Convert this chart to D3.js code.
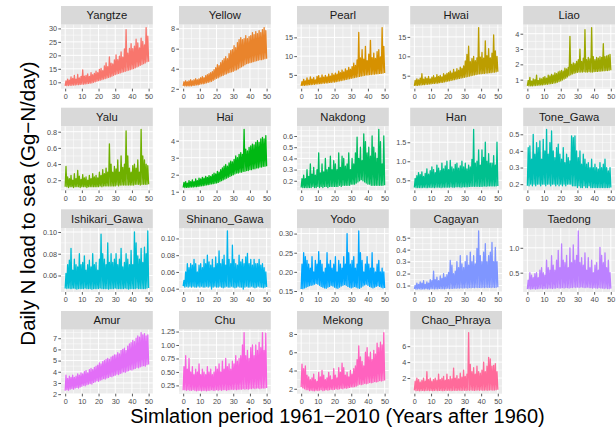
<!DOCTYPE html>
<html>
<head>
<meta charset="utf-8">
<script src="https://cdn.jsdelivr.net/npm/d3@7"></script>
<style>
  body { margin: 0; background: #fff; }
  text { font-family: "Liberation Sans", Arial, sans-serif; }
</style>
</head>
<body>
<div id="container"></div>
<script>
/* DATA: yearly low / high of daily N load (years 0..49 after 1960) */
const rivers = ["Yangtze","Yellow","Pearl","Hwai","Liao","Yalu","Hai","Nakdong","Han","Tone_Gawa",
  "Ishikari_Gawa","Shinano_Gawa","Yodo","Cagayan","Taedong","Amur","Chu","Mekong","Chao_Phraya"];

const xTicks = [0, 10, 20, 30, 40, 50];

const yangtzeLow = [8.7,8.8,8.8,8.9,8.9,9.0,9.0,9.1,9.1,9.2,9.3,9.3,9.4,9.5,9.6,9.7,9.8,10.0,10.2,10.4,
  10.6,10.8,11.0,11.2,11.4,11.6,11.8,12.0,12.3,12.6,12.9,13.1,13.3,13.5,13.7,13.9,14.1,14.3,14.5,14.7,
  14.9,15.1,15.4,15.7,16.0,16.3,16.6,16.9,17.2,17.6];
const yangtzeHigh = [10.5,11.2,10.8,12.0,11.4,12.6,11.2,12.9,11.6,12.2,14.6,12.3,12.6,13.1,12.2,13.6,12.8,13.3,14.1,13.6,
  14.8,15.2,14.3,16.1,17.2,15.8,19.4,17.1,16.8,18.3,20.2,18.4,19.7,21.3,19.3,22.4,29.5,20.8,22.6,24.3,
  22.5,23.4,26.0,24.6,22.8,26.4,25.2,23.9,30.3,27.1];
const yangtzeTicks = ["10","15","20","25","30"];

const yellowLow = [2.3,2.3,2.3,2.3,2.3,2.3,2.35,2.35,2.4,2.4,2.45,2.5,2.5,2.55,2.6,2.65,2.7,2.75,2.85,2.95,
  3.05,3.1,3.2,3.3,3.35,3.45,3.5,3.6,3.65,3.7,3.75,3.85,3.9,4.0,4.1,4.2,4.3,4.4,4.5,4.55,
  4.6,4.65,4.7,4.75,4.8,4.85,4.9,4.9,4.95,5.0];
const yellowHigh = [2.7,2.8,2.7,2.8,2.9,2.8,2.9,3.0,2.9,3.0,3.1,3.2,3.1,3.3,3.4,3.5,3.6,3.7,3.9,4.1,
  4.4,4.3,4.6,4.8,5.0,5.2,5.0,5.5,5.8,5.9,6.3,6.1,6.6,6.9,7.1,6.9,7.0,7.3,7.0,7.2,
  7.3,7.6,7.4,7.7,7.5,7.8,7.6,7.9,8.1,7.8];
const yellowTicks = ["2","4","6","8"];

const pearlLow = [2.1,2.2,2.2,2.3,2.3,2.4,2.4,2.5,2.5,2.6,2.6,2.7,2.7,2.8,2.8,2.9,2.9,3.0,3.0,3.1,
  3.1,3.2,3.3,3.4,3.5,3.6,3.7,3.8,3.9,4.0,4.1,4.2,4.3,4.4,4.5,4.6,4.7,4.8,4.9,5.0,
  5.0,5.1,5.1,5.2,5.2,5.3,5.3,5.4,5.4,5.5];
const pearlHigh = [3.2,3.8,3.4,4.2,3.6,4.5,3.9,4.3,3.7,4.6,4.8,4.2,5.0,4.4,4.9,4.5,5.2,4.7,5.4,5.0,
  5.5,5.2,6.0,5.6,6.3,5.8,6.6,6.2,7.0,6.5,7.2,8.1,7.5,9.0,16.3,9.5,11.7,9.2,12.6,8.8,
  10.5,14.2,9.6,10.8,9.4,11.2,11.7,9.8,17.6,12.6];
const pearlTicks = ["5","10","15"];

const hwaiLow = [2.4,2.5,2.5,2.6,2.6,2.7,2.7,2.8,2.8,2.9,2.9,3.0,3.0,3.1,3.1,3.2,3.3,3.3,3.4,3.5,
  3.6,3.7,3.8,3.9,4.0,4.1,4.2,4.3,4.4,4.5,4.6,4.7,4.8,4.9,5.0,5.1,5.2,5.3,5.4,5.5,
  5.5,5.6,5.6,5.7,5.7,5.8,5.8,5.9,5.9,6.0];
const hwaiHigh = [3.8,4.2,3.9,4.4,5.5,4.1,4.6,4.3,4.8,4.2,4.6,5.0,4.5,5.3,4.8,5.1,4.7,5.5,5.2,5.6,
  5.8,6.2,5.7,6.6,6.0,6.8,6.4,7.2,6.9,7.5,8.8,10.5,12.6,8.6,9.4,10.0,8.9,9.6,17.4,9.8,
  11.0,9.5,14.0,10.2,12.0,9.6,10.8,15.5,11.4,10.0];
const hwaiTicks = ["5","10","15"];

const liaoLow = [0.6,0.6,0.6,0.6,0.62,0.62,0.64,0.64,0.66,0.66,0.68,0.7,0.7,0.72,0.74,0.76,0.78,0.8,0.84,0.88,
  0.92,0.98,1.04,1.1,1.18,1.26,1.32,1.38,1.42,1.45,1.48,1.5,1.5,1.5,1.52,1.5,1.5,1.52,1.5,1.5,
  1.52,1.54,1.54,1.56,1.56,1.58,1.58,1.6,1.6,1.62];
const liaoHigh = [0.95,1.15,0.9,1.05,1.0,1.3,0.95,1.1,1.05,1.15,1.2,1.1,1.3,1.25,1.35,1.3,1.45,1.4,1.5,1.55,
  1.6,1.55,1.75,1.7,1.8,3.83,2.0,2.1,2.05,2.2,2.3,3.0,2.2,2.4,4.26,2.3,2.45,2.35,4.4,2.5,
  2.3,2.45,2.4,2.5,2.45,3.35,2.5,2.55,2.6,2.65];
const liaoTicks = ["1","2","3","4"];

const yaluLow = [0.12,0.12,0.11,0.12,0.12,0.11,0.12,0.12,0.12,0.11,0.12,0.12,0.12,0.11,0.12,0.12,0.12,0.12,0.12,0.12,
  0.12,0.13,0.12,0.13,0.13,0.13,0.13,0.13,0.13,0.13,0.13,0.14,0.13,0.14,0.14,0.14,0.14,0.14,0.14,0.14,
  0.14,0.14,0.15,0.15,0.15,0.14,0.15,0.15,0.15,0.15];
const yaluHigh = [0.37,0.24,0.22,0.26,0.2,0.28,0.22,0.32,0.25,0.21,0.27,0.23,0.24,0.2,0.26,0.22,0.28,0.24,0.26,0.23,
  0.3,0.26,0.33,0.28,0.35,0.3,0.65,0.4,0.3,0.37,0.34,0.45,0.3,0.5,0.36,0.4,0.81,0.5,0.35,0.3,
  0.38,0.4,0.35,0.45,0.3,0.83,0.5,0.45,0.4,0.38];
const yaluTicks = ["0.2","0.4","0.6","0.8"];

const haiLow = [1.25,1.25,1.26,1.26,1.27,1.28,1.28,1.3,1.3,1.32,1.33,1.35,1.36,1.38,1.4,1.42,1.44,1.46,1.48,1.5,
  1.52,1.55,1.6,1.65,1.7,1.75,1.8,1.85,1.9,1.95,2.0,2.05,2.1,2.1,2.15,2.15,2.2,2.2,2.25,2.25,
  2.3,2.3,2.35,2.35,2.4,2.4,2.45,2.45,2.5,2.5];
const haiHigh = [1.55,1.6,1.5,1.65,1.6,1.7,1.6,1.75,1.65,1.8,1.75,1.85,1.8,1.9,1.85,1.95,1.9,2.0,2.1,2.05,
  2.2,2.15,2.3,2.4,2.5,2.6,2.5,2.7,2.8,2.75,2.9,3.1,3.0,3.2,3.3,3.2,4.67,3.5,3.4,3.6,
  3.7,3.8,3.75,3.9,4.0,3.9,4.1,4.2,4.1,4.3];
const haiTicks = ["1","2","3","4"];

const nakdongLow = [0.14,0.14,0.14,0.14,0.14,0.14,0.14,0.15,0.14,0.14,0.15,0.14,0.15,0.14,0.15,0.15,0.14,0.15,0.15,0.15,
  0.15,0.15,0.15,0.16,0.15,0.16,0.16,0.16,0.16,0.16,0.17,0.17,0.17,0.18,0.19,0.2,0.21,0.2,0.19,0.18,
  0.17,0.17,0.16,0.16,0.16,0.16,0.16,0.16,0.16,0.16];
const nakdongHigh = [0.22,0.25,0.22,0.3,0.24,0.35,0.26,0.32,0.25,0.3,0.45,0.27,0.35,0.28,0.4,0.3,0.32,0.42,0.3,0.38,
  0.35,0.3,0.45,0.32,0.42,0.4,0.33,0.35,0.45,0.3,0.4,0.35,0.45,0.59,0.4,0.5,0.38,0.62,0.55,0.45,
  0.5,0.42,0.6,0.5,0.45,0.4,0.66,0.55,0.35,0.6];
const nakdongTicks = ["0.2","0.3","0.4","0.5","0.6"];

const hanLow = [0.31,0.31,0.31,0.31,0.31,0.31,0.32,0.31,0.31,0.32,0.31,0.32,0.31,0.32,0.32,0.32,0.31,0.32,0.32,0.32,
  0.32,0.32,0.33,0.32,0.32,0.33,0.33,0.33,0.32,0.33,0.33,0.33,0.33,0.34,0.34,0.34,0.34,0.34,0.34,0.34,
  0.34,0.34,0.35,0.34,0.35,0.35,0.35,0.35,0.35,0.35];
const hanHigh = [0.55,0.62,0.7,0.65,0.72,0.6,0.68,0.8,0.66,0.75,0.85,0.78,0.7,0.9,0.82,0.75,0.95,0.8,0.88,1.0,
  0.78,1.02,0.85,0.8,0.92,0.95,0.82,0.88,1.0,0.85,0.95,0.8,0.9,0.85,1.05,1.84,0.95,1.0,1.3,0.9,
  1.3,1.1,1.5,1.0,1.2,0.95,0.95,1.15,0.9,1.5];
const hanTicks = ["0.5","1.0","1.5"];

const toneLow = [0.19,0.19,0.2,0.19,0.2,0.19,0.2,0.2,0.19,0.2,0.2,0.19,0.2,0.2,0.19,0.2,0.2,0.19,0.2,0.19,
  0.2,0.19,0.2,0.19,0.2,0.2,0.2,0.19,0.19,0.19,0.18,0.19,0.18,0.18,0.19,0.18,0.18,0.19,0.18,0.18,
  0.18,0.18,0.18,0.18,0.18,0.18,0.18,0.18,0.18,0.18];
const toneHigh = [0.42,0.43,0.35,0.5,0.38,0.45,0.42,0.46,0.35,0.47,0.4,0.53,0.38,0.45,0.52,0.4,0.36,0.42,0.44,0.38,
  0.35,0.42,0.33,0.38,0.36,0.34,0.49,0.48,0.49,0.4,0.36,0.4,0.32,0.38,0.35,0.32,0.33,0.3,0.35,0.3,
  0.32,0.3,0.29,0.33,0.3,0.32,0.35,0.3,0.28,0.3];
const toneTicks = ["0.2","0.3","0.4","0.5"];

const ishikariLow = [0.048,0.048,0.0485,0.048,0.048,0.0485,0.048,0.0475,0.048,0.048,0.048,0.048,0.0485,0.048,0.048,0.048,0.0475,0.048,0.048,0.048,
  0.048,0.0485,0.048,0.048,0.048,0.048,0.0475,0.048,0.048,0.048,0.0485,0.048,0.048,0.048,0.048,0.048,0.0485,0.048,0.0475,0.048,
  0.048,0.048,0.048,0.0485,0.048,0.048,0.048,0.048,0.048,0.0485];
const ishikariHigh = [0.062,0.07,0.074,0.085,0.065,0.075,0.07,0.068,0.08,0.07,0.072,0.078,0.065,0.07,0.074,0.068,0.08,0.07,0.072,0.065,
  0.075,0.098,0.08,0.075,0.07,0.09,0.072,0.08,0.072,0.075,0.08,0.07,0.075,0.085,0.068,0.072,0.08,0.075,0.07,0.083,
  0.07,0.1,0.09,0.078,0.075,0.085,0.072,0.086,0.08,0.101];
const ishikariTicks = ["0.06","0.08","0.10"];

const shinanoLow = [0.043,0.042,0.043,0.042,0.043,0.042,0.043,0.042,0.042,0.043,0.042,0.043,0.042,0.042,0.043,0.042,0.043,0.0395,0.042,0.043,
  0.042,0.042,0.043,0.042,0.041,0.042,0.043,0.042,0.042,0.043,0.042,0.041,0.042,0.043,0.042,0.042,0.0395,0.042,0.043,0.042,
  0.042,0.043,0.042,0.041,0.042,0.043,0.042,0.042,0.041,0.042];
const shinanoHigh = [0.05,0.06,0.07,0.065,0.07,0.068,0.075,0.07,0.06,0.068,0.07,0.065,0.075,0.07,0.08,0.072,0.068,0.075,0.065,0.078,
  0.07,0.085,0.07,0.075,0.08,0.068,0.109,0.075,0.07,0.092,0.075,0.07,0.068,0.08,0.072,0.075,0.07,0.078,0.082,0.07,
  0.075,0.068,0.075,0.07,0.07,0.075,0.068,0.07,0.065,0.06];
const shinanoTicks = ["0.04","0.06","0.08","0.10"];

const yodoLow = [0.155,0.156,0.158,0.16,0.162,0.164,0.165,0.166,0.168,0.17,0.168,0.165,0.162,0.16,0.158,0.157,0.16,0.162,0.165,0.163,
  0.16,0.158,0.157,0.16,0.163,0.165,0.167,0.165,0.162,0.16,0.158,0.16,0.162,0.16,0.158,0.157,0.16,0.163,0.166,0.168,
  0.165,0.162,0.16,0.158,0.16,0.162,0.164,0.162,0.16,0.158];
const yodoHigh = [0.22,0.25,0.24,0.23,0.22,0.21,0.24,0.2,0.23,0.22,0.253,0.23,0.22,0.2,0.21,0.25,0.22,0.23,0.21,0.22,
  0.24,0.2,0.23,0.22,0.21,0.24,0.22,0.3,0.25,0.22,0.23,0.24,0.21,0.22,0.307,0.25,0.23,0.2,0.22,0.24,
  0.22,0.21,0.25,0.21,0.2,0.22,0.23,0.2,0.21,0.2];
const yodoTicks = ["0.15","0.20","0.25","0.30"];

const cagayanLow = [0.072,0.07,0.071,0.073,0.07,0.072,0.071,0.074,0.072,0.07,0.073,0.075,0.072,0.074,0.073,0.076,0.074,0.075,0.073,0.076,
  0.078,0.075,0.077,0.076,0.079,0.077,0.08,0.078,0.081,0.079,0.08,0.082,0.079,0.083,0.081,0.084,0.082,0.085,0.083,0.084,
  0.082,0.085,0.083,0.086,0.084,0.085,0.083,0.086,0.084,0.085];
const cagayanHigh = [0.1,0.12,0.11,0.13,0.12,0.14,0.11,0.13,0.12,0.15,0.14,0.22,0.15,0.17,0.14,0.18,0.16,0.2,0.17,0.19,
  0.21,0.31,0.27,0.2,0.22,0.3,0.25,0.35,0.28,0.25,0.3,0.35,0.27,0.38,0.3,0.35,0.28,0.41,0.557,0.35,
  0.3,0.38,0.45,0.3,0.35,0.38,0.46,0.3,0.42,0.3];
const cagayanTicks = ["0.1","0.2","0.3","0.4","0.5"];

const taedongLow = [0.17,0.18,0.17,0.18,0.18,0.17,0.18,0.18,0.19,0.18,0.18,0.19,0.18,0.19,0.19,0.18,0.19,0.19,0.2,0.19,
  0.19,0.2,0.19,0.2,0.2,0.19,0.2,0.2,0.21,0.2,0.21,0.2,0.21,0.21,0.2,0.2,0.21,0.2,0.2,0.19,
  0.2,0.19,0.19,0.2,0.19,0.19,0.18,0.19,0.18,0.18];
const taedongHigh = [0.35,0.5,0.45,0.4,0.48,0.5,0.4,0.55,0.6,0.5,0.45,0.75,0.6,0.55,0.84,0.65,0.55,0.75,0.95,0.6,
  1.08,0.75,0.7,0.85,0.6,1.0,0.7,1.06,0.75,0.85,1.34,0.7,0.8,0.65,0.9,0.55,0.8,0.6,0.75,0.5,
  0.65,0.7,0.55,1.01,0.85,0.7,0.9,0.6,0.75,0.5];
const taedongTicks = ["0.5","1.0"];

const amurLow = [2.3,2.4,2.35,2.45,2.5,2.45,2.55,2.6,2.55,2.65,2.7,2.8,2.75,2.85,2.9,2.95,2.9,3.05,3.1,3.2,
  3.15,3.25,3.3,3.4,3.35,3.45,3.5,3.6,3.55,3.65,3.7,3.8,3.75,3.85,3.9,4.0,3.95,4.05,4.1,4.2,
  4.15,4.25,4.3,4.4,4.35,4.45,4.5,4.55,4.5,4.65];
const amurHigh = [3.7,3.4,3.6,3.5,3.7,3.5,3.6,3.8,3.7,3.9,3.8,4.0,4.1,3.9,4.2,4.3,4.2,4.4,4.5,4.6,
  4.8,4.7,4.9,5.0,5.1,5.2,5.1,5.3,5.4,5.5,5.5,5.7,5.6,5.9,6.0,6.1,5.9,6.3,6.5,6.6,
  6.8,6.7,7.0,7.2,7.1,7.5,7.3,7.4,7.2,7.3];
const amurTicks = ["2","3","4","5","6","7"];

const chuLow = [0.16,0.17,0.16,0.17,0.16,0.16,0.17,0.16,0.15,0.16,0.16,0.15,0.16,0.16,0.15,0.16,0.16,0.17,0.16,0.16,
  0.17,0.16,0.17,0.16,0.17,0.17,0.16,0.17,0.17,0.18,0.17,0.18,0.17,0.18,0.18,0.18,0.19,0.18,0.19,0.18,
  0.19,0.19,0.2,0.19,0.2,0.2,0.19,0.2,0.2,0.2];
const chuHigh = [0.6,0.8,0.55,0.75,0.5,0.6,0.45,0.55,0.5,0.65,0.45,0.55,0.5,0.45,0.6,0.5,0.55,0.45,0.5,0.6,
  0.55,0.65,0.5,0.7,0.55,0.75,0.6,0.65,0.55,0.7,0.65,0.8,0.7,0.75,0.8,1.0,1.23,0.8,0.9,0.75,
  0.95,1.0,0.8,1.0,0.9,1.05,0.95,1.23,0.9,1.22];
const chuTicks = ["0.25","0.50","0.75","1.00","1.25"];

const mekongLow = [2.2,2.1,2.0,1.9,1.9,1.8,1.85,1.8,1.78,1.85,1.8,1.85,1.9,1.8,1.85,1.9,1.85,1.9,1.95,1.9,
  1.95,2.0,1.95,2.0,2.05,2.0,2.1,2.05,2.1,2.15,2.2,2.2,2.25,2.3,2.4,2.5,2.45,2.5,2.6,2.55,
  2.6,2.7,2.65,2.7,2.8,2.75,2.8,2.9,2.85,2.9];
const mekongHigh = [4.7,4.2,4.5,3.5,3.3,3.0,3.2,3.6,3.0,2.8,3.8,3.3,4.0,3.5,3.0,3.2,3.8,3.4,3.0,4.2,
  3.5,3.2,4.3,3.8,4.8,4.3,3.5,3.8,3.3,4.0,3.6,4.2,4.5,5.2,6.7,5.5,5.0,4.5,6.0,6.5,
  5.5,6.0,5.2,6.2,5.8,7.0,6.5,7.1,6.8,8.15];
const mekongTicks = ["2","4","6","8"];

const chaoLow = [0.45,0.42,0.44,0.4,0.43,0.45,0.42,0.44,0.46,0.43,0.45,0.42,0.44,0.46,0.43,0.45,0.44,0.42,0.45,0.47,
  0.44,0.46,0.43,0.45,0.47,0.44,0.46,0.48,0.45,0.47,0.46,0.44,0.48,0.46,0.49,0.47,0.45,0.48,0.5,0.47,
  0.49,0.46,0.48,0.5,0.47,0.49,0.51,0.48,0.5,0.52];
const chaoHigh = [1.6,2.0,1.8,1.5,1.7,2.0,1.6,2.8,1.8,2.0,1.6,1.8,2.0,1.7,2.5,1.8,2.0,2.2,1.7,2.5,
  1.8,2.2,1.9,3.25,2.0,2.3,1.9,2.6,2.1,3.0,2.2,2.5,7.7,3.7,2.8,3.3,2.5,3.5,2.8,2.6,
  3.0,4.0,2.8,3.5,4.6,4.4,3.5,3.6,3.8,2.8];
const chaoTicks = ["2","4","6"];

const lows = [yangtzeLow, yellowLow, pearlLow, hwaiLow, liaoLow, yaluLow, haiLow, nakdongLow, hanLow, toneLow,
  ishikariLow, shinanoLow, yodoLow, cagayanLow, taedongLow, amurLow, chuLow, mekongLow, chaoLow];
const highs = [yangtzeHigh, yellowHigh, pearlHigh, hwaiHigh, liaoHigh, yaluHigh, haiHigh, nakdongHigh, hanHigh, toneHigh,
  ishikariHigh, shinanoHigh, yodoHigh, cagayanHigh, taedongHigh, amurHigh, chuHigh, mekongHigh, chaoHigh];
const yTickSets = [yangtzeTicks, yellowTicks, pearlTicks, hwaiTicks, liaoTicks, yaluTicks, haiTicks, nakdongTicks, hanTicks, toneTicks,
  ishikariTicks, shinanoTicks, yodoTicks, cagayanTicks, taedongTicks, amurTicks, chuTicks, mekongTicks, chaoTicks];

/* LAYOUT */
const width = 616, height = 430;
const colX = [61, 179, 297, 410.2, 523.2];
const rowY = [6, 107.7, 209.3, 311];
const panelW = 91.8, stripH = 18.7, plotH = 64;

// ggplot2 hue palette (polar LUV -> sRGB)
function hclLuv(h, c, l) {
  const hr = h * Math.PI / 180;
  const U = c * Math.cos(hr), V = c * Math.sin(hr);
  const Xn = 95.047, Yn = 100, Zn = 108.883;
  const Y = l > 8 ? Yn * Math.pow((l + 16) / 116, 3) : Yn * l / 903.3;
  const den = Xn + 15 * Yn + 3 * Zn;
  const up = U / (13 * l) + 4 * Xn / den, vp = V / (13 * l) + 9 * Yn / den;
  const X = 9 * Y * up / (4 * vp);
  const Z = -X / 3 - 5 * Y + 3 * Y / vp;
  const x = X / 100, y = Y / 100, z = Z / 100;
  const lin = [3.240479 * x - 1.537150 * y - 0.498535 * z,
              -0.969256 * x + 1.875992 * y + 0.041556 * z,
               0.055648 * x - 0.204043 * y + 1.057311 * z];
  const g = lin.map(v => {
    v = v <= 0.0031308 ? 12.92 * v : 1.055 * Math.pow(v, 1 / 2.4) - 0.055;
    return Math.round(Math.max(0, Math.min(1, v)) * 255);
  });
  return d3.rgb(g[0], g[1], g[2]).formatHex();
}
const colors = rivers.map((r, i) => hclLuv(15 + i * 360 / rivers.length, 100, 65));

/* SVG */
const svg = d3.select("#container")
  .append("svg")
  .attr("width", width)
  .attr("height", height)
  .style("background", "#fff");

rivers.forEach((name, k) => {
  const col = k % 5, row = Math.floor(k / 5);
  const left = colX[col], top = rowY[row] + stripH;
  const low = lows[k], high = highs[k];
  const ticks = yTickSets[k];

  const yMin = d3.min(low), yMax = d3.max(high);
  const pad = (yMax - yMin) * 0.05;

  const xScale = d3.scaleLinear().domain([-2.5, 52.5]).range([left, left + panelW]);
  const yScale = d3.scaleLinear().domain([yMin - pad, yMax + pad]).range([top + plotH, top]);

  const g = svg.append("g");

  // strip
  g.append("rect")
    .attr("x", left).attr("y", rowY[row])
    .attr("width", panelW).attr("height", stripH)
    .attr("fill", "#d9d9d9");
  g.append("text")
    .attr("x", left + panelW / 2)
    .attr("y", rowY[row] + stripH / 2 + 4)
    .attr("text-anchor", "middle")
    .attr("font-size", "11.3px")
    .attr("fill", "#1a1a1a")
    .text(name);

  // panel background
  g.append("rect")
    .attr("x", left).attr("y", top)
    .attr("width", panelW).attr("height", plotH)
    .attr("fill", "#ebebeb");

  // grid lines
  const yVals = ticks.map(Number);
  const step = yVals.length > 1 ? yVals[1] - yVals[0] : 0.5;
  const yMinor = [yVals[0] - step / 2].concat(yVals.map(v => v + step / 2))
    .filter(v => v > yScale.domain()[0] && v < yScale.domain()[1]);
  const xMinor = [5, 15, 25, 35, 45];

  g.selectAll("line.ymin").data(yMinor).join("line")
    .attr("x1", left).attr("x2", left + panelW)
    .attr("y1", d => yScale(d)).attr("y2", d => yScale(d))
    .attr("stroke", "#fff").attr("stroke-width", 0.5);
  g.selectAll("line.xmin").data(xMinor).join("line")
    .attr("y1", top).attr("y2", top + plotH)
    .attr("x1", d => xScale(d)).attr("x2", d => xScale(d))
    .attr("stroke", "#fff").attr("stroke-width", 0.5);
  g.selectAll("line.ymaj").data(yVals).join("line")
    .attr("x1", left).attr("x2", left + panelW)
    .attr("y1", d => yScale(d)).attr("y2", d => yScale(d))
    .attr("stroke", "#fff").attr("stroke-width", 1);
  g.selectAll("line.xmaj").data(xTicks).join("line")
    .attr("y1", top).attr("y2", top + plotH)
    .attr("x1", d => xScale(d)).attr("x2", d => xScale(d))
    .attr("stroke", "#fff").attr("stroke-width", 1);

  // series: yearly low -> yearly high zigzag
  const pts = [];
  low.forEach((v, i) => {
    pts.push([i, v]);
    pts.push([i + 0.5, high[i]]);
  });
  pts.push([50, low[low.length - 1]]);

  const lineGen = d3.line()
    .x(d => xScale(d[0]))
    .y(d => yScale(d[1]));

  g.append("path")
    .datum(pts)
    .attr("fill", "none")
    .attr("stroke", colors[k])
    .attr("stroke-width", 1.3)
    .attr("stroke-linejoin", "round")
    .attr("d", lineGen);

  // axes
  const yAxis = d3.axisLeft(yScale)
    .tickValues(yVals)
    .tickFormat((d, i) => ticks[i])
    .tickSize(2.7)
    .tickPadding(1.2);
  const ya = g.append("g")
    .attr("transform", `translate(${left},0)`)
    .call(yAxis);

  const xAxis = d3.axisBottom(xScale)
    .tickValues(xTicks)
    .tickSize(2.7)
    .tickPadding(2.6);
  const xa = g.append("g")
    .attr("transform", `translate(0,${top + plotH})`)
    .call(xAxis);

  [ya, xa].forEach(a => {
    a.select(".domain").remove();
    a.selectAll(".tick line").attr("stroke", "#333333").attr("stroke-width", 0.8);
    a.selectAll(".tick text")
      .attr("fill", "#4d4d4d")
      .attr("font-size", "7.3px")
      .attr("font-family", "'Liberation Sans', Arial, sans-serif");
  });
});

// axis titles
svg.append("text")
  .attr("x", 337.5)
  .attr("y", 423)
  .attr("text-anchor", "middle")
  .attr("font-size", "20px")
  .attr("fill", "#000")
  .text("Simlation period 1961\u22122010 (Years after 1960)");

svg.append("text")
  .attr("transform", "translate(35,203.5) rotate(-90)")
  .attr("text-anchor", "middle")
  .attr("font-size", "20.5px")
  .attr("fill", "#000")
  .text("Daily N load to sea (Gg\u2212N/day)");
</script>
</body>
</html>
